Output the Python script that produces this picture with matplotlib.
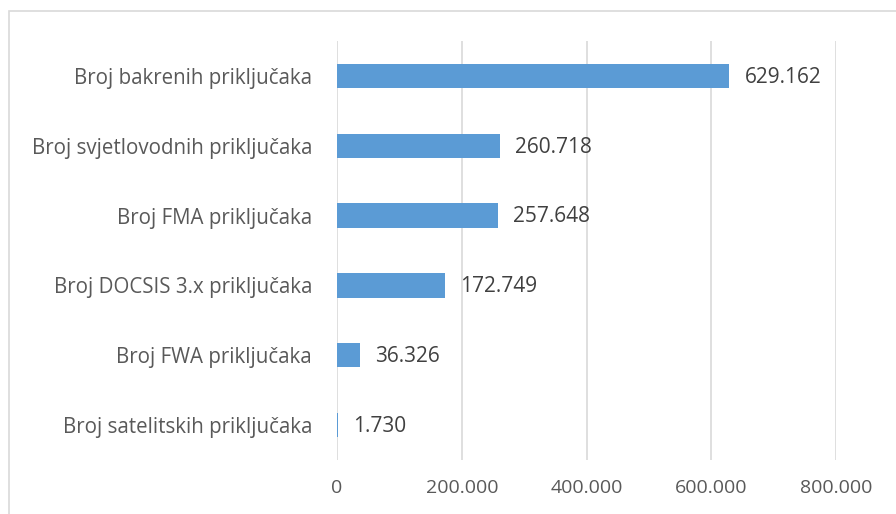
import matplotlib
matplotlib.use("Agg")
import matplotlib.pyplot as plt
from matplotlib.patches import Rectangle

categories = [
    "Broj bakrenih priključaka",
    "Broj svjetlovodnih priključaka",
    "Broj FMA priključaka",
    "Broj DOCSIS 3.x priključaka",
    "Broj FWA priključaka",
    "Broj satelitskih priključaka",
]
values = [629162, 260718, 257648, 172749, 36326, 1730]
xticks = [0, 200000, 400000, 600000, 800000]


def fmt(v):
    return f"{v:,}".replace(",", ".")


plt.rcParams["font.family"] = ["Open Sans", "DejaVu Sans"]
text_color = "#595959"
grid_color = "#D9D9D9"

fig = plt.figure(figsize=(8.96, 5.14), dpi=100)
fig.patches.append(Rectangle((9 / 896, -0.1), 1.2, 1 - 11 / 514 + 0.1, transform=fig.transFigure,
                             fill=False, edgecolor=grid_color, linewidth=1.2))
ax = fig.add_axes([337 / 896, 1 - 460 / 514, (836 - 337) / 896, (460 - 41) / 514])

ypos = list(range(len(categories)))
ax.barh(ypos, values, height=0.35, color="#5B9BD5", zorder=3)
for y, v in zip(ypos, values):
    ax.annotate(fmt(v), (v, y), xytext=(11, -1), textcoords="offset points",
                va="center", ha="left", fontsize=15, color="#404040")

ax.set_xlim(0, 800000)
ax.set_ylim(len(categories) - 0.5, -0.5)
ax.set_xticks(xticks)
ax.set_xticklabels([fmt(t) for t in xticks], fontsize=14)
ax.set_yticks(ypos)
ax.set_yticklabels(categories, fontsize=14.8)
ax.tick_params(axis="both", length=0, colors=text_color)
ax.tick_params(axis="x", pad=14)
ax.tick_params(axis="y", pad=18)
ax.grid(axis="x", color=grid_color, linewidth=1.2, zorder=0)
for s in ax.spines.values():
    s.set_visible(False)

fig.savefig("out.png", dpi=100)
